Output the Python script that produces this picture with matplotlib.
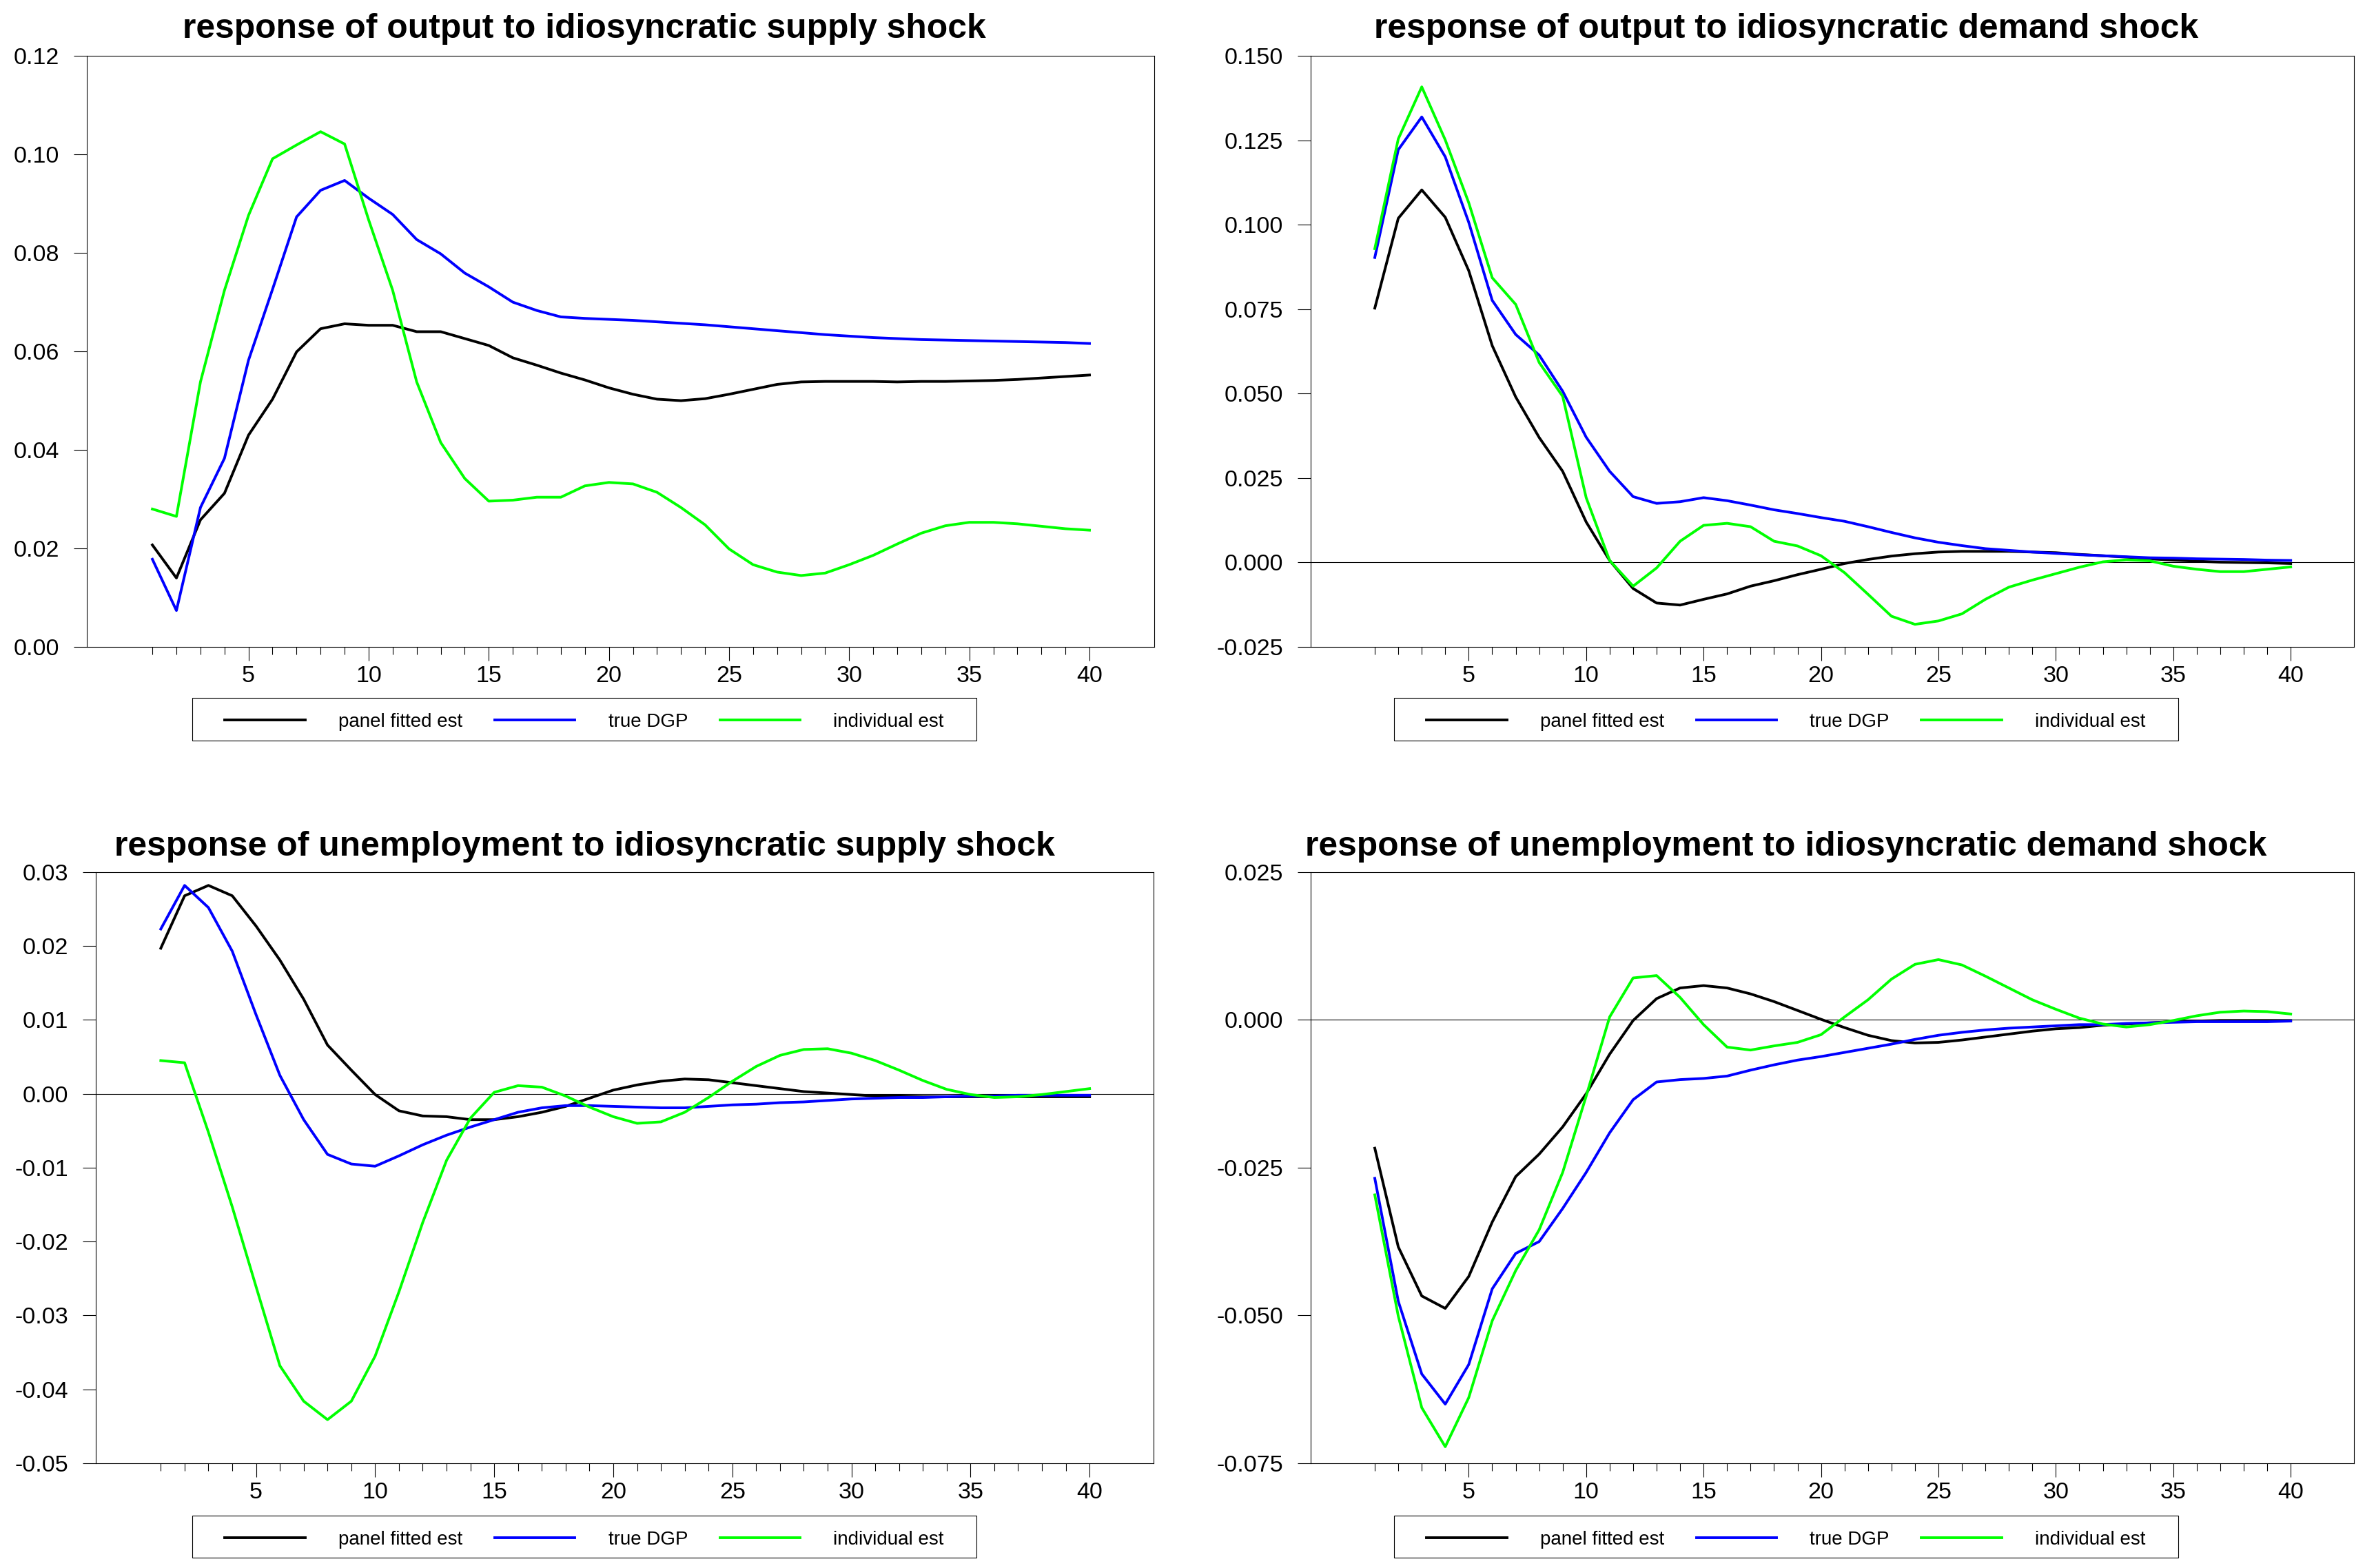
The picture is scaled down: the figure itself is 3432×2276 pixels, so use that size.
import numpy as np
import matplotlib.pyplot as plt
from matplotlib.patches import Rectangle
from matplotlib.ticker import FixedLocator, FormatStrFormatter

plt.rcParams['font.family'] = ['Liberation Sans', 'DejaVu Sans']
plt.rcParams['axes.unicode_minus'] = False

horizon = np.arange(1, 41)
series_names = ['panel fitted est', 'true DGP', 'individual est']
series_colors = ['#000000', '#0000ff', '#00ff00']

# response of output to idiosyncratic supply shock
out_sup_panel = [0.0207, 0.0140, 0.0258, 0.0312, 0.0430, 0.0503, 0.0599, 0.0646, 0.0656, 0.0653,
                 0.0653, 0.0640, 0.0640, 0.0626, 0.0612, 0.0587, 0.0572, 0.0556, 0.0542, 0.0526,
                 0.0513, 0.0503, 0.0500, 0.0504, 0.0513, 0.0523, 0.0533, 0.0538, 0.0539, 0.0539,
                 0.0539, 0.0538, 0.0539, 0.0539, 0.0540, 0.0541, 0.0543, 0.0546, 0.0549, 0.0552]
out_sup_true = [0.0178, 0.0074, 0.0283, 0.0383, 0.0582, 0.0726, 0.0873, 0.0927, 0.0947, 0.0911,
                0.0878, 0.0827, 0.0798, 0.0759, 0.0731, 0.0700, 0.0683, 0.0670, 0.0667, 0.0665,
                0.0663, 0.0660, 0.0657, 0.0654, 0.0650, 0.0646, 0.0642, 0.0638, 0.0634, 0.0631,
                0.0628, 0.0626, 0.0624, 0.0623, 0.0622, 0.0621, 0.0620, 0.0619, 0.0618, 0.0616]
out_sup_indiv = [0.0280, 0.0265, 0.0538, 0.0724, 0.0876, 0.0991, 0.1019, 0.1046, 0.1021, 0.0867,
                 0.0724, 0.0538, 0.0415, 0.0342, 0.0296, 0.0298, 0.0304, 0.0304, 0.0327, 0.0334,
                 0.0331, 0.0314, 0.0283, 0.0248, 0.0199, 0.0167, 0.0152, 0.0145, 0.0150, 0.0167,
                 0.0186, 0.0209, 0.0231, 0.0246, 0.0253, 0.0253, 0.0250, 0.0245, 0.0240, 0.0237]

# response of output to idiosyncratic demand shock
out_dem_panel = [0.0753, 0.1019, 0.1103, 0.1022, 0.0864, 0.0642, 0.0490, 0.0370, 0.0270, 0.0120,
                 0.0006, -0.0077, -0.0120, -0.0126, -0.0109, -0.0093, -0.0070, -0.0054, -0.0036, -0.0020,
                 -0.0003, 0.0009, 0.0019, 0.0026, 0.0031, 0.0033, 0.0033, 0.0033, 0.0031, 0.0029,
                 0.0024, 0.0020, 0.0016, 0.0011, 0.0007, 0.0004, 0.0001, 0.0000, -0.0001, -0.0003]
out_dem_true = [0.0903, 0.1222, 0.1319, 0.1201, 0.1007, 0.0776, 0.0675, 0.0614, 0.0507, 0.0371,
                0.0270, 0.0195, 0.0175, 0.0180, 0.0192, 0.0183, 0.0170, 0.0156, 0.0145, 0.0133,
                0.0122, 0.0106, 0.0089, 0.0073, 0.0060, 0.0050, 0.0041, 0.0036, 0.0031, 0.0027,
                0.0023, 0.0020, 0.0017, 0.0014, 0.0013, 0.0011, 0.0010, 0.0009, 0.0007, 0.0006]
out_dem_indiv = [0.0929, 0.1254, 0.1408, 0.1251, 0.1065, 0.0843, 0.0764, 0.0592, 0.0492, 0.0192,
                 0.0006, -0.0070, -0.0016, 0.0063, 0.0110, 0.0116, 0.0106, 0.0063, 0.0049, 0.0020,
                 -0.0030, -0.0094, -0.0159, -0.0183, -0.0173, -0.0152, -0.0109, -0.0073, -0.0052, -0.0033,
                 -0.0014, 0.0002, 0.0008, 0.0005, -0.0011, -0.0020, -0.0027, -0.0027, -0.0020, -0.0013]

# response of unemployment to idiosyncratic supply shock
un_sup_panel = [0.0197, 0.0268, 0.0282, 0.0268, 0.0227, 0.0181, 0.0128, 0.0066, 0.0032, -0.0001,
                -0.0023, -0.0030, -0.0031, -0.0035, -0.0035, -0.0031, -0.0025, -0.0017, -0.0006, 0.0005,
                0.0012, 0.0017, 0.0020, 0.0019, 0.0015, 0.0011, 0.0007, 0.0003, 0.0001, -0.0001,
                -0.0003, -0.0003, -0.0004, -0.0004, -0.0004, -0.0004, -0.0004, -0.0004, -0.0004, -0.0004]
un_sup_true = [0.0223, 0.0282, 0.0252, 0.0193, 0.0107, 0.0025, -0.0035, -0.0082, -0.0095, -0.0098,
               -0.0084, -0.0069, -0.0056, -0.0045, -0.0035, -0.0025, -0.0019, -0.0016, -0.0016, -0.0017,
               -0.0018, -0.0019, -0.0019, -0.0017, -0.0015, -0.0014, -0.0012, -0.0011, -0.0009, -0.0007,
               -0.0006, -0.0005, -0.0005, -0.0004, -0.0003, -0.0003, -0.0002, -0.0002, -0.0002, -0.0002]
un_sup_indiv = [0.0045, 0.0042, -0.0052, -0.0153, -0.0261, -0.0368, -0.0416, -0.0441, -0.0416, -0.0355,
                -0.0268, -0.0174, -0.0090, -0.0033, 0.0002, 0.0011, 0.0009, -0.0003, -0.0018, -0.0031,
                -0.0040, -0.0038, -0.0025, -0.0005, 0.0017, 0.0037, 0.0052, 0.0060, 0.0061, 0.0055,
                0.0045, 0.0032, 0.0018, 0.0006, -0.0001, -0.0005, -0.0004, -0.0001, 0.0003, 0.0007]

# response of unemployment to idiosyncratic demand shock
un_dem_panel = [-0.0217, -0.0384, -0.0467, -0.0488, -0.0434, -0.0342, -0.0265, -0.0227, -0.0181, -0.0125,
                -0.0058, -0.0001, 0.0036, 0.0054, 0.0058, 0.0054, 0.0044, 0.0031, 0.0016, 0.0001,
                -0.0013, -0.0026, -0.0035, -0.0039, -0.0038, -0.0034, -0.0029, -0.0024, -0.0019, -0.0015,
                -0.0013, -0.0009, -0.0007, -0.0005, -0.0003, -0.0002, -0.0001, -0.0001, -0.0001, -0.0001]
un_dem_true = [-0.0268, -0.0476, -0.0599, -0.0650, -0.0583, -0.0455, -0.0395, -0.0375, -0.0319, -0.0258,
               -0.0191, -0.0135, -0.0105, -0.0101, -0.0099, -0.0095, -0.0085, -0.0076, -0.0068, -0.0062,
               -0.0055, -0.0048, -0.0041, -0.0033, -0.0026, -0.0021, -0.0017, -0.0014, -0.0012, -0.0010,
               -0.0008, -0.0008, -0.0006, -0.0005, -0.0004, -0.0003, -0.0003, -0.0003, -0.0003, -0.0002]
un_dem_indiv = [-0.0296, -0.0501, -0.0656, -0.0722, -0.0639, -0.0509, -0.0424, -0.0355, -0.0258, -0.0129,
                0.0005, 0.0071, 0.0075, 0.0038, -0.0008, -0.0046, -0.0051, -0.0044, -0.0038, -0.0025,
                0.0005, 0.0034, 0.0069, 0.0094, 0.0102, 0.0093, 0.0074, 0.0054, 0.0034, 0.0018,
                0.0003, -0.0007, -0.0012, -0.0008, -0.0001, 0.0007, 0.0013, 0.0015, 0.0014, 0.0010]

W, H = 3432, 2276
fig = plt.figure(figsize=(W / 100, H / 100), dpi=100)

panels = [
    dict(title='response of output to idiosyncratic supply shock',
         rect=[0.0367, 0.5874, 0.4513, 0.3770], center=0.2471, title_y=0.9758, box_y=(1013, 1075),
         data=[out_sup_panel, out_sup_true, out_sup_indiv],
         yticks=np.arange(0, 0.1201, 0.02), fmt='%.2f', zero=False),
    dict(title='response of output to idiosyncratic demand shock',
         rect=[0.5542, 0.5874, 0.4411, 0.3770], center=0.7552, title_y=0.9758, box_y=(1013, 1075),
         data=[out_dem_panel, out_dem_true, out_dem_indiv],
         yticks=np.arange(-0.025, 0.1501, 0.025), fmt='%.3f', zero=True),
    dict(title='response of unemployment to idiosyncratic supply shock',
         rect=[0.0405, 0.0668, 0.4473, 0.3770], center=0.2471, title_y=0.4543, box_y=(2200, 2261),
         data=[un_sup_panel, un_sup_true, un_sup_indiv],
         yticks=np.arange(-0.05, 0.0301, 0.01), fmt='%.2f', zero=True),
    dict(title='response of unemployment to idiosyncratic demand shock',
         rect=[0.5542, 0.0668, 0.4411, 0.3770], center=0.7552, title_y=0.4543, box_y=(2200, 2261),
         data=[un_dem_panel, un_dem_true, un_dem_indiv],
         yticks=np.arange(-0.075, 0.0251, 0.025), fmt='%.3f', zero=True),
]

box_w = 1138 / W

for p in panels:
    ax = fig.add_axes(p['rect'])
    if p['zero']:
        ax.axhline(0, color='black', lw=0.8, zorder=1)
    for vals, name, col in zip(p['data'], series_names, series_colors):
        ax.plot(horizon, vals, color=col, lw=2.8, label=name, zorder=2)

    ax.set_xlim(-1.73, 42.69)
    ax.set_ylim(p['yticks'][0], p['yticks'][-1])
    ax.xaxis.set_major_locator(FixedLocator(range(5, 41, 5)))
    ax.xaxis.set_minor_locator(FixedLocator(range(1, 41)))
    ax.yaxis.set_major_locator(FixedLocator(p['yticks']))
    ax.yaxis.set_major_formatter(FormatStrFormatter(p['fmt']))
    ax.tick_params(axis='x', which='major', length=14.5, width=0.8, pad=5, labelsize=24.5)
    ax.tick_params(axis='x', which='minor', length=8, width=0.8)
    ax.tick_params(axis='y', which='major', length=13.7, width=0.8, pad=15, labelsize=24.5)
    for s in ax.spines.values():
        s.set_linewidth(0.8)

    fig.text(p['center'], p['title_y'], p['title'], ha='center', va='baseline',
             fontsize=35.8, fontweight='bold')

    # legend box below the axes
    y_top, y_bot = p['box_y']
    y0 = 1 - y_bot / H
    bh = (y_bot - y_top) / H
    fig.patches.append(Rectangle((p['center'] - box_w / 2, y0), box_w, bh,
                                 transform=fig.transFigure, fill=False,
                                 edgecolor='black', lw=0.8))
    leg = ax.legend(loc='center', ncol=3, bbox_to_anchor=(p['center'], y0 + bh / 2 - 4 / H),
                    bbox_transform=fig.transFigure, fontsize=20, frameon=False,
                    handlelength=4.2, handletextpad=1.73, columnspacing=1.68,
                    borderpad=0, borderaxespad=0)
    for line in leg.get_lines():
        line.set_linewidth(2.8)

fig.savefig('out.png', dpi=100)
